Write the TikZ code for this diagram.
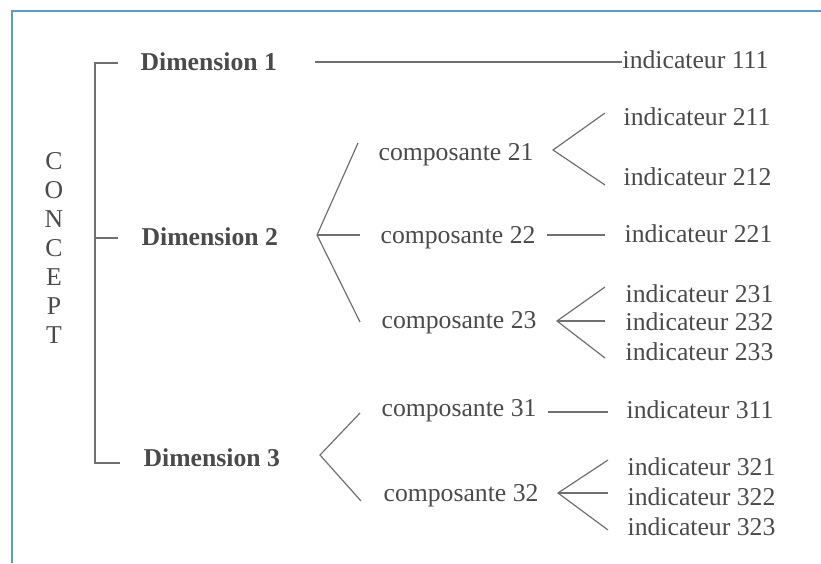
\documentclass[tikz,border=0pt]{standalone}
\usepackage{fontspec}
\setmainfont{Liberation Serif}
\definecolor{inkgray}{HTML}{4A4A4A}
\definecolor{linegray}{HTML}{707070}
\definecolor{frameblue}{HTML}{5B9BD5}
\begin{document}
\begin{tikzpicture}[x=1pt,y=-1pt,line width=1.2pt,
    txt/.style={inner sep=0pt,anchor=west,text=inkgray,text height=17.5pt,text depth=0pt,font=\fontsize{25.7}{29}\selectfont},
    dim/.style={txt,font=\fontsize{25.7}{29}\selectfont\bfseries},
    comp/.style={txt},
    ind/.style={txt},
    tree/.style={draw=linegray}]
    \useasboundingbox (0,0) rectangle (821,563);
    \draw[frameblue,line width=2.4pt] (12,563) -- (12,11) -- (821,11);
    \node (concept) [inner sep=0pt,text=inkgray,align=center,font=\fontsize{25.7}{29}\selectfont] at (54,248) {C\\O\\N\\C\\E\\P\\T};
    \node (dim1) [dim] at (140,62) {Dimension 1};
    \node (dim2) [dim] at (141,237) {Dimension 2};
    \node (dim3) [dim] at (143,458) {Dimension 3};
    \node (c21) [comp] at (378,152) {composante 21};
    \node (c22) [comp] at (380,235) {composante 22};
    \node (c23) [comp] at (381,320) {composante 23};
    \node (c31) [comp] at (381,408) {composante 31};
    \node (c32) [comp] at (383,493) {composante 32};
    \node (i111) [ind] at (622,60) {indicateur 111};
    \node (i211) [ind] at (623,117) {indicateur 211};
    \node (i212) [ind] at (623,177) {indicateur 212};
    \node (i221) [ind] at (624,234) {indicateur 221};
    \node (i231) [ind] at (625,294) {indicateur 231};
    \node (i232) [ind] at (625,322) {indicateur 232};
    \node (i233) [ind] at (625,352) {indicateur 233};
    \node (i311) [ind] at (626,410) {indicateur 311};
    \node (i321) [ind] at (627,467) {indicateur 321};
    \node (i322) [ind] at (627,497) {indicateur 322};
    \node (i323) [ind] at (627,527) {indicateur 323};
    \coordinate (btop) at (95,63);
    \coordinate (bmid) at (95,238);
    \coordinate (bbot) at (95,463);
    \coordinate (f2) at (317,235);
    \coordinate (f3) at (320,455);
    \coordinate (f21) at (553,150);
    \coordinate (f23) at (557,321);
    \coordinate (f32) at (558,493);
    \draw[tree] (118,63) -- (btop) -- (bbot) -- (120,463);
    \draw[tree] (bmid) -- (118,238);
    \draw[tree] (315,62) -- (315,62 -| i111.west);
    \draw[tree] (358,143) -- (f2) -- (360,322);
    \draw[tree] (f2) -- (360,235);
    \draw[tree] (605,113) -- (f21) -- (605,185);
    \draw[tree] (547,235) -- (605,235);
    \draw[tree] (605,287) -- (f23) -- (605,358);
    \draw[tree] (f23) -- (605,321);
    \draw[tree] (360,413) -- (f3) -- (361,501);
    \draw[tree] (548,412) -- (608,412);
    \draw[tree] (608,460) -- (f32) -- (608,530);
    \draw[tree] (f32) -- (608,493);
\end{tikzpicture}
\end{document}
